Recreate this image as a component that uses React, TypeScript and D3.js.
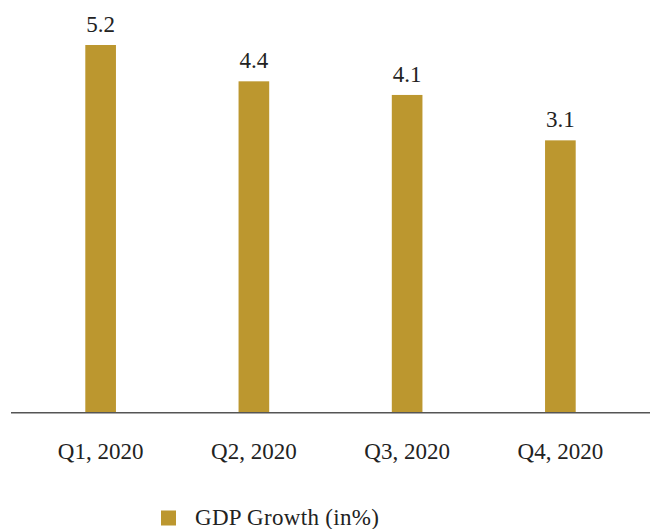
import React from "react";
import * as d3 from "d3";

const categories = ["Q1, 2020", "Q2, 2020", "Q3, 2020", "Q4, 2020"];
const gdpGrowth = [5.2, 4.4, 4.1, 3.1];
const seriesName = "GDP Growth (in%)";
const yMin = -2.9;

const W = 650;
const H = 529;
const baseY = 412.8;
const barColor = "#BC972F";
const textColor = "#222222";
const font = "'Liberation Serif', 'Times New Roman', serif";

export default function App() {
  const x = d3
    .scaleBand<string>()
    .domain(categories)
    .range([24, 637])
    .paddingInner(0.8)
    .paddingOuter(0.4);
  const y = d3.scaleLinear().domain([yMin, 5.2]).range([baseY, 45]);

  return (
    <svg
      width={W}
      height={H}
      style={{ position: "absolute", left: 0, top: 0, background: "#fff" }}
    >
      <rect x={0} y={0} width={W} height={H} fill="#fff" />
      {categories.map((c, i) => {
        const v = gdpGrowth[i];
        const bx = x(c)!;
        const cx = bx + x.bandwidth() / 2;
        return (
          <g key={c}>
            <rect
              x={bx}
              y={y(v)}
              width={x.bandwidth()}
              height={baseY - y(v)}
              fill={barColor}
            />
            <text
              x={cx}
              y={y(v) - 13}
              textAnchor="middle"
              fontFamily={font}
              fontSize={23}
              fill={textColor}
            >
              {v.toFixed(1)}
            </text>
            <text
              x={cx}
              y={459}
              textAnchor="middle"
              fontFamily={font}
              fontSize={23}
              fill={textColor}
            >
              {c}
            </text>
          </g>
        );
      })}
      <line x1={11} x2={650} y1={baseY} y2={baseY} stroke="#555" strokeWidth={1.6} />
      <rect x={161} y={510.5} width={15} height={15} fill={barColor} />
      <text x={195} y={525} fontFamily={font} fontSize={23} fill={textColor} letterSpacing={0.3}>
        {seriesName}
      </text>
    </svg>
  );
}
